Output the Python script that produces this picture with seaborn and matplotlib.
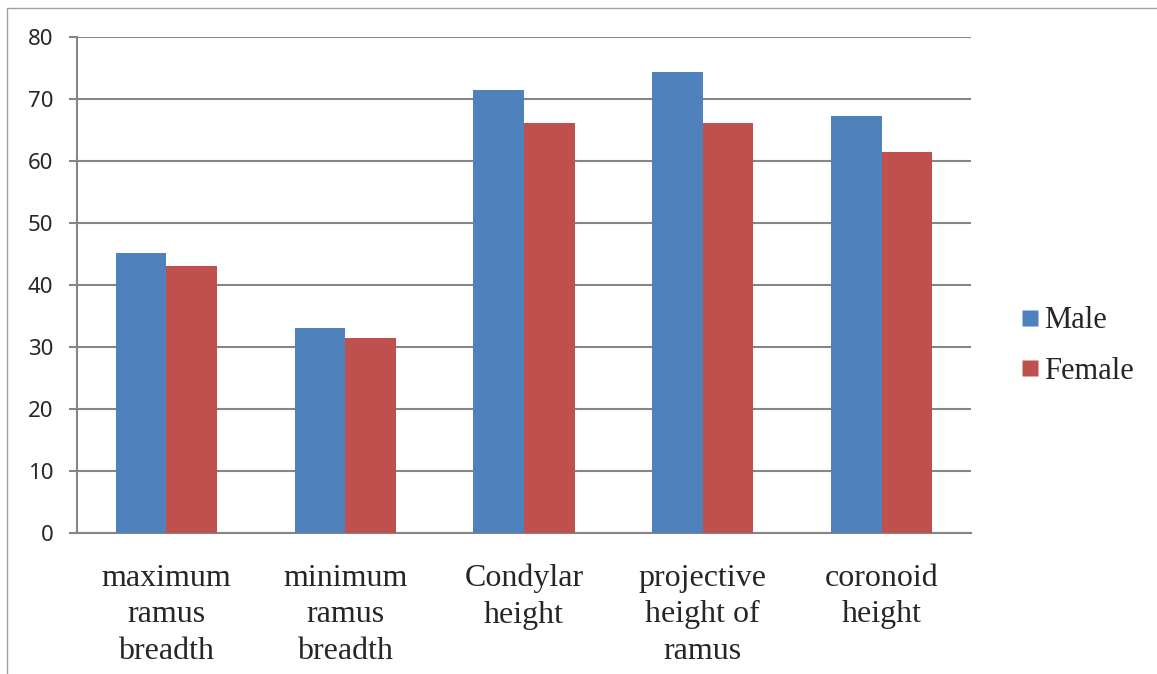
import matplotlib
matplotlib.use("Agg")
import matplotlib.pyplot as plt
from matplotlib.lines import Line2D
import seaborn as sns
import pandas as pd

categories = ["maximum\nramus\nbreadth", "minimum\nramus\nbreadth", "Condylar\nheight",
              "projective\nheight of\nramus", "coronoid\nheight"]
male = [45.2, 33.1, 71.5, 74.4, 67.2]
female = [43.0, 31.5, 66.2, 66.2, 61.5]
series = ["Male", "Female"]
colors = ["#4F81BD", "#C0504D"]
yticks = [0, 10, 20, 30, 40, 50, 60, 70, 80]

df = pd.DataFrame({
    "category": categories * 2,
    "value": male + female,
    "series": ["Male"] * len(categories) + ["Female"] * len(categories),
})

sns.set_style("white")
fig = plt.figure(figsize=(11.57, 6.74), dpi=100)
ax = fig.add_axes([77 / 1157, 1 - 533 / 674, (971 - 77) / 1157, (533 - 37) / 674])

sns.barplot(data=df, x="category", y="value", hue="series", hue_order=series,
            palette=colors, width=0.565, gap=0, ax=ax, saturation=1,
            edgecolor="none", linewidth=0, legend=False, zorder=3)

grid_c = "#868686"
ax.set_ylim(0, 80)
ax.set_xlim(-0.5, len(categories) - 0.5)
ax.set_yticks(yticks)
ax.set_yticklabels([str(t) for t in yticks], fontsize=16, family="Noto Sans")
ax.yaxis.grid(True, color=grid_c, linewidth=1.5, zorder=0)
ax.set_axisbelow(True)
ax.set_xticks(range(len(categories)))
ax.set_xticklabels(categories, fontsize=23, family="Liberation Serif", linespacing=1.36)
ax.set_xticks([i - 0.5 for i in range(len(categories) + 1)], minor=True)
ax.tick_params(axis="x", which="major", length=0, pad=22)
ax.tick_params(axis="x", which="minor", length=8, width=1.5, color=grid_c, direction="out")
ax.tick_params(axis="y", length=6, width=1.5, color=grid_c, direction="out", pad=11, left=True)
ax.set_xlabel("")
ax.set_ylabel("")
for s in ["top", "right"]:
    ax.spines[s].set_visible(False)
for s in ["left", "bottom"]:
    ax.spines[s].set_color(grid_c)
    ax.spines[s].set_linewidth(1.5)

handles = [Line2D([0], [0], marker="s", linestyle="none", markersize=12,
                  markerfacecolor=c, markeredgecolor="none") for c in colors]
fig.legend(handles, series, loc="center left", bbox_to_anchor=(1006 / 1157, 1 - 346 / 674),
           frameon=False, prop={"family": "Liberation Serif", "size": 22},
           handletextpad=0.05, labelspacing=0.7, handlelength=0.8, borderaxespad=0)

fig.add_artist(Line2D([7 / 1157, 7 / 1157], [0, 1 - 8 / 674], transform=fig.transFigure,
                      color="#A0A0A0", linewidth=1))
fig.add_artist(Line2D([7 / 1157, 1], [1 - 8 / 674, 1 - 8 / 674], transform=fig.transFigure,
                      color="#A0A0A0", linewidth=1))

fig.savefig("out.png", dpi=100)
